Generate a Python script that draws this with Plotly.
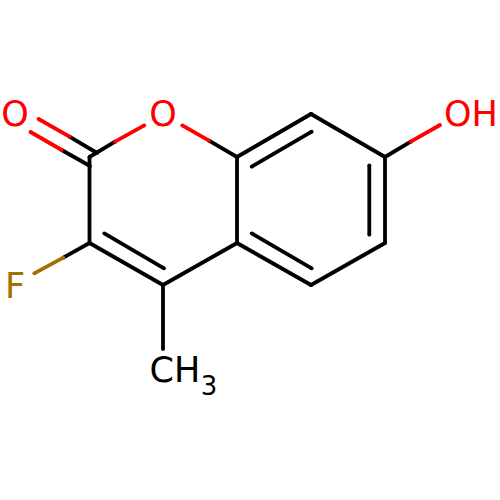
import plotly.graph_objects as go

# black parts of the bonds
black_x = [[89.5, 89.5], [89.5, 163], [163, 237], [237, 311], [311, 385], [385, 385], [385, 311], [311, 237], [237, 237],
           [104.3, 164], [251.7, 311.7], [369.3, 369.3], [251.7, 311.7],
           [163, 163], [89.5, 63.3], [385, 410.7], [237, 209], [89.5, 115], [69.5, 97], [61.7, 90]]
black_y = [[157, 243], [243, 285], [285, 243], [243, 285], [285, 243], [243, 157], [157, 114], [114, 157], [157, 243],
           [233.3, 268.3], [233.3, 268.3], [165.3, 234.7], [166.7, 131.7],
           [285, 349], [243, 257.7], [157, 141.7], [157, 140.7], [157, 141.7], [136.7, 153], [150, 166]]

# red parts (oxygen side)
red_x = [[38.5, 69.5], [30.5, 61.7], [115, 144.3], [182.3, 209], [410.7, 440]]
red_y = [[119, 136.7], [132, 150], [141.7, 125.3], [125.3, 140.7], [141.7, 125]]

# fluorine part
gold_x = [[63.3, 34.3]]
gold_y = [[257.7, 273.3]]

labels = ["O", "O", "OH", "F", "CH", "3"]
label_x = [15, 163, 471, 15, 175, 209]
label_y = [117, 117, 117, 289, 373, 388]
label_colors = ["#FF0000", "#FF0000", "#FF0000", "#A07000", "#000000", "#000000"]
label_sizes = [35, 35, 35, 35, 35, 26]

fig = go.Figure()


def add_bonds(xs, ys, color):
    for x, y in zip(xs, ys):
        fig.add_trace(go.Scatter(x=x, y=y, mode="lines+markers",
                                 line=dict(color=color, width=3.8),
                                 marker=dict(color=color, size=3.8),
                                 hoverinfo="skip"))


add_bonds(black_x, black_y, "#000000")
add_bonds(red_x, red_y, "#FF0000")
add_bonds(gold_x, gold_y, "#A07000")

for t, x, y, c, s in zip(labels, label_x, label_y, label_colors, label_sizes):
    fig.add_trace(go.Scatter(x=[x], y=[y], mode="text", text=[t],
                             textposition="middle center",
                             textfont=dict(family="DejaVu Sans, sans-serif", size=s, color=c),
                             hoverinfo="skip"))

fig.update_layout(width=500, height=500, margin=dict(l=0, r=0, t=0, b=0),
                  paper_bgcolor="white", plot_bgcolor="white", showlegend=False,
                  xaxis=dict(range=[0, 500], visible=False),
                  yaxis=dict(range=[500, 0], visible=False))
fig.write_html("out.html", config={"displayModeBar": False},
               post_script="document.body.style.margin='0';")
